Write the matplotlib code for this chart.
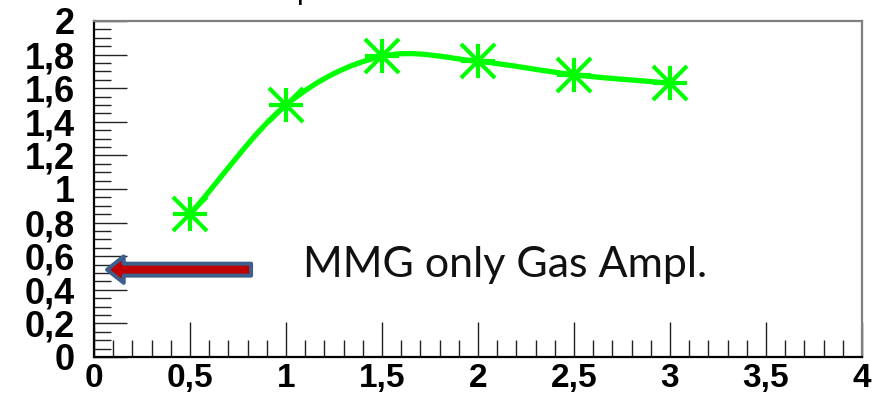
import numpy as np
import matplotlib
matplotlib.use("Agg")
import matplotlib.pyplot as plt
from matplotlib.path import Path
from matplotlib.patches import PathPatch, FancyArrowPatch
from matplotlib.ticker import MultipleLocator, FuncFormatter

# gain vs. field points
x_vals = [0.5, 1.0, 1.5, 2.0, 2.5, 3.0]
y_vals = [0.85, 1.50, 1.79, 1.76, 1.68, 1.63]

note = "MMG only Gas Ampl."
arrow_y = 0.52

GREEN = "#00ff00"


def smooth_path(xs, ys):
    # Catmull-Rom through the points, written as cubic Bezier segments
    pts = np.column_stack([xs, ys])
    ext = np.vstack([2 * pts[0] - pts[1], pts, 2 * pts[-1] - pts[-2]])
    verts = [tuple(pts[0])]
    codes = [Path.MOVETO]
    for i in range(1, len(ext) - 2):
        p0, p1, p2, p3 = ext[i - 1], ext[i], ext[i + 1], ext[i + 2]
        c1 = p1 + (p2 - p0) / 6.0
        c2 = p2 - (p3 - p1) / 6.0
        verts += [tuple(c1), tuple(c2), tuple(p2)]
        codes += [Path.CURVE4] * 3
    return Path(verts, codes)


fig = plt.figure(figsize=(8.87, 3.97), dpi=100)
ax = fig.add_axes([94 / 887, 40 / 397, 768 / 887, 336 / 397])
ax.set_xlim(0, 4)
ax.set_ylim(0, 2)

ax.add_patch(PathPatch(smooth_path(x_vals, y_vals), facecolor="none",
                       edgecolor=GREEN, lw=3.8, capstyle="butt", zorder=3))
for m in ("+", "x"):
    ax.plot(x_vals, y_vals, ls="none", marker=m, ms=25, mew=3.0,
            color=GREEN, zorder=4)

# block arrow pointing at the y axis
arr = FancyArrowPatch((0.818, arrow_y), (0.068, arrow_y),
                      arrowstyle="simple,head_length=12,head_width=19,tail_width=8.6",
                      mutation_scale=1, shrinkA=0, shrinkB=0,
                      facecolor="#c00000", edgecolor="#3c5f8c", lw=2.9,
                      joinstyle="round", zorder=5)
ax.add_patch(arr)
ax.text(1.09, arrow_y + 0.03, note, fontsize=31, family="Lato",
        va="center", ha="left", color="#111111")

# frame: ROOT style, ticks inside, grey top/right
for side in ("top", "right"):
    ax.spines[side].set_color("#808080")
    ax.spines[side].set_linewidth(1.6)
for side in ("left", "bottom"):
    ax.spines[side].set_color("black")
    ax.spines[side].set_linewidth(1.6)

ax.xaxis.set_major_locator(MultipleLocator(0.5))
ax.xaxis.set_minor_locator(MultipleLocator(0.1))
ax.yaxis.set_major_locator(MultipleLocator(0.2))
ax.yaxis.set_minor_locator(MultipleLocator(0.05))

fmt = FuncFormatter(lambda v, p: ("%g" % round(v, 2)).replace(".", ","))
ax.xaxis.set_major_formatter(fmt)
ax.yaxis.set_major_formatter(fmt)

ax.tick_params(which="both", direction="in", top=False, right=False,
               color="#222222", width=1.0)
ax.tick_params(axis="x", which="major", length=25, pad=4)
ax.tick_params(axis="x", which="minor", length=12.5)
ax.tick_params(axis="y", which="major", length=24, pad=14)
ax.tick_params(axis="y", which="minor", length=12)

for lab in ax.get_xticklabels() + ax.get_yticklabels():
    lab.set_fontfamily("Liberation Sans")
    lab.set_fontweight("bold")
    lab.set_fontsize(26)
for lab in ax.get_xticklabels():
    lab.set_fontsize(24)

# bottom of the clipped title
fig.text(305 / 887, 1.0 + 2 / 397, "p", fontsize=22, family="Liberation Sans",
         ha="center", va="baseline")

fig.savefig("out.png", dpi=100)
